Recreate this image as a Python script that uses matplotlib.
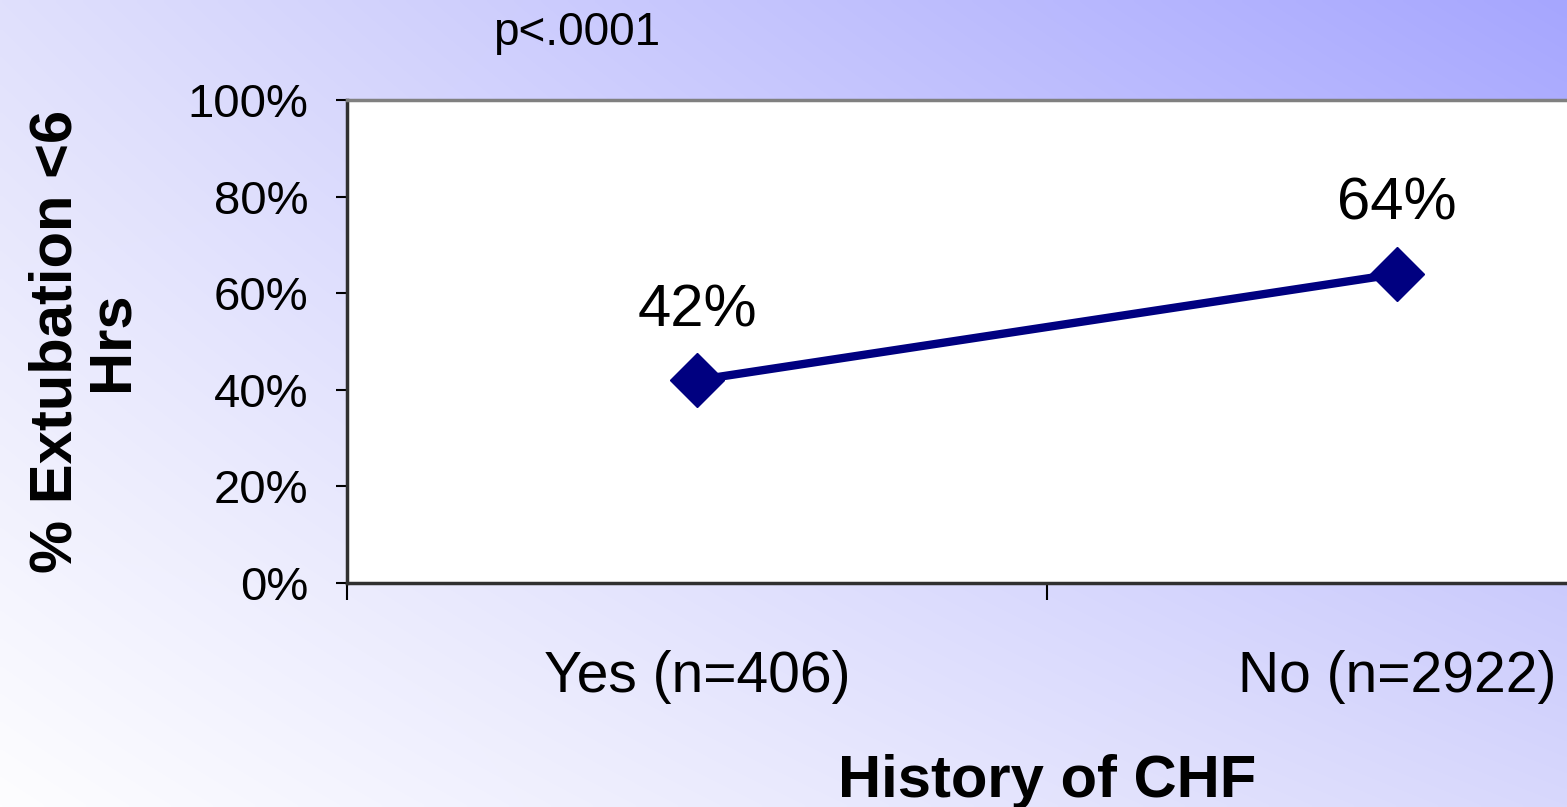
import numpy as np
import matplotlib
matplotlib.use('Agg')
import matplotlib.pyplot as plt

plt.rcParams['font.family'] = ['Liberation Sans', 'DejaVu Sans']

categories = ['Yes (n=406)', 'No (n=2922)']
values = [42, 64]
point_labels = ['42%', '64%']
yticks = [0, 20, 40, 60, 80, 100]

fig = plt.figure(figsize=(15.67, 8.07), dpi=100)

# diagonal gradient background built from the four corner colours
tl = np.array([0xe0, 0xe0, 0xfc]) / 255.0
tr = np.array([0xa6, 0xa6, 0xff]) / 255.0
bl = np.array([0xfd, 0xfd, 0xff]) / 255.0
br = np.array([0xd8, 0xd8, 0xfc]) / 255.0
u = np.linspace(0, 1, 400)[None, :, None]
v = np.linspace(0, 1, 200)[:, None, None]
grad = (1 - v) * ((1 - u) * tl + u * tr) + v * ((1 - u) * bl + u * br)
bg = fig.add_axes([0, 0, 1, 1], zorder=0)
bg.imshow(grad, extent=[0, 1, 0, 1], aspect='auto', interpolation='bilinear')
bg.set_axis_off()

# axes extends past the right edge of the figure, as in the original slide
ax = fig.add_axes([347/1567, 1 - 583/807, 1400/1567, 483/807], zorder=1)
ax.set_facecolor('white')
x = np.arange(len(categories))
ax.plot(x, values, color='#000080', lw=6, marker='D', markersize=27,
        markeredgecolor='#000080', zorder=3, clip_on=False)
for xi, v_, lab in zip(x, values, point_labels):
    ax.annotate(lab, (xi, v_), xytext=(0, 50), textcoords='offset points',
                ha='center', va='center', fontsize=43)

ax.set_xlim(-0.5, 1.5)
ax.set_ylim(0, 100)
ax.set_yticks(yticks)
ax.set_yticklabels([f'{t}%' for t in yticks])
ax.set_xticks([-0.5, 0.5, 1.5])
ax.set_xticklabels([])
ax.set_xticks(x, minor=True)
ax.set_xticklabels(categories, minor=True)
ax.tick_params(axis='x', which='minor', length=0, labelsize=41, pad=48)
ax.tick_params(axis='x', which='major', direction='out', length=12, width=1.5)
ax.tick_params(axis='y', direction='out', length=8, width=1.5, labelsize=34, pad=20)

ax.spines['top'].set_color('#808080')
ax.spines['top'].set_linewidth(2.5)
ax.spines['right'].set_visible(False)
for s in ['left', 'bottom']:
    ax.spines[s].set_color('#303030')
    ax.spines[s].set_linewidth(2.5)

ax.set_xlabel('History of CHF', fontsize=43, fontweight='bold', labelpad=36)
fig.text(84/1567, 1 - 341/807, '% Extubation <6\nHrs', rotation=90,
         ha='center', va='center', fontsize=43, fontweight='bold',
         multialignment='center', linespacing=1.0)
fig.text(577/1567, 1 - 33/807, 'p<.0001', ha='center', va='center', fontsize=33)

fig.savefig('out.png', dpi=100)
